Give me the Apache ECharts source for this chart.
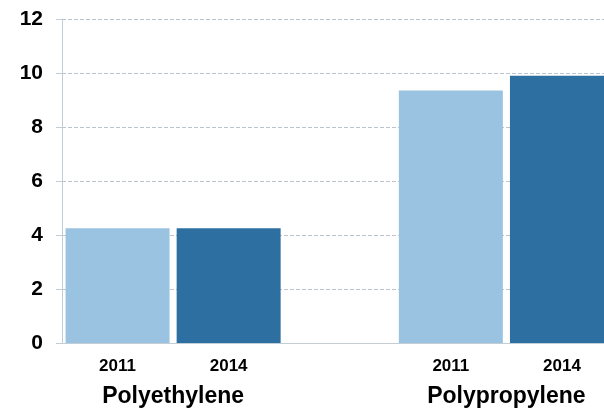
<!DOCTYPE html>
<html>
<head>
<meta charset="utf-8">
<script src="https://cdn.jsdelivr.net/npm/echarts@6/dist/echarts.min.js"></script>
<style>html,body{margin:0;padding:0;background:#fff}#c{width:604px;height:411px}</style>
</head>
<body>
<div id="c"></div>
<script>
// Data
const groups = ['Polyethylene', 'Polypropylene'];
const years = ['2011', '2014'];
const values2011 = [4.25, 9.35];
const values2014 = [4.25, 9.9];
const yTicks = [0, 2, 4, 6, 8, 10, 12];

// Build category slots: group1 years, spacer, group2 years
const categories = [];
const data2011 = [];
const data2014 = [];
const groupCenters = [];
groups.forEach((g, gi) => {
  if (gi > 0) { categories.push(''); data2011.push('-'); data2014.push('-'); }
  const start = categories.length;
  years.forEach((y, yi) => {
    categories.push(y);
    data2011.push(yi === 0 ? values2011[gi] : '-');
    data2014.push(yi === 1 ? values2014[gi] : '-');
  });
  groupCenters.push(start + years.length / 2);
});

const font = 'Liberation Sans, Arial, sans-serif';
const chart = echarts.init(document.getElementById('c'), null, {renderer: 'canvas'});
chart.setOption({
  animation: false,
  grid: {left: 62, top: 19, bottom: 68, right: -13.5, containLabel: false, outerBoundsMode: 'none'},
  xAxis: [{
    type: 'category',
    data: categories,
    axisLine: {show: true, lineStyle: {color: '#C3CDD6', width: 1}},
    axisTick: {show: false},
    axisLabel: {color: '#000', fontFamily: font, fontWeight: 'bold', fontSize: 17, margin: 15, interval: 0}
  }, {
    type: 'value',
    position: 'bottom',
    min: 0, max: categories.length,
    axisLine: {show: false},
    axisTick: {show: false},
    splitLine: {show: false},
    axisLabel: {
      customValues: groupCenters,
      formatter: v => groups[groupCenters.indexOf(v)] || '',
      color: '#000', fontFamily: font, fontWeight: 'bold', fontSize: 23, margin: 42
    }
  }],
  yAxis: {
    type: 'value',
    min: yTicks[0], max: yTicks[yTicks.length - 1], interval: 2,
    axisLine: {show: true, lineStyle: {color: '#C3CDD6', width: 1}},
    axisTick: {show: true, length: 6, lineStyle: {color: '#C3CDD6'}},
    splitLine: {show: true, lineStyle: {color: '#BCC5CE', type: [4, 2], width: 1}},
    axisLabel: {color: '#000', fontFamily: font, fontWeight: 'bold', fontSize: 21, margin: 19}
  },
  series: [{
    name: years[0], type: 'bar', data: data2011, barWidth: 104, barGap: '-100%',
    itemStyle: {color: '#9AC3E2'}, xAxisIndex: 0
  }, {
    name: years[1], type: 'bar', data: data2014, barWidth: 104,
    itemStyle: {color: '#2D6FA0'}, xAxisIndex: 0
  }]
});
</script>
</body>
</html>
